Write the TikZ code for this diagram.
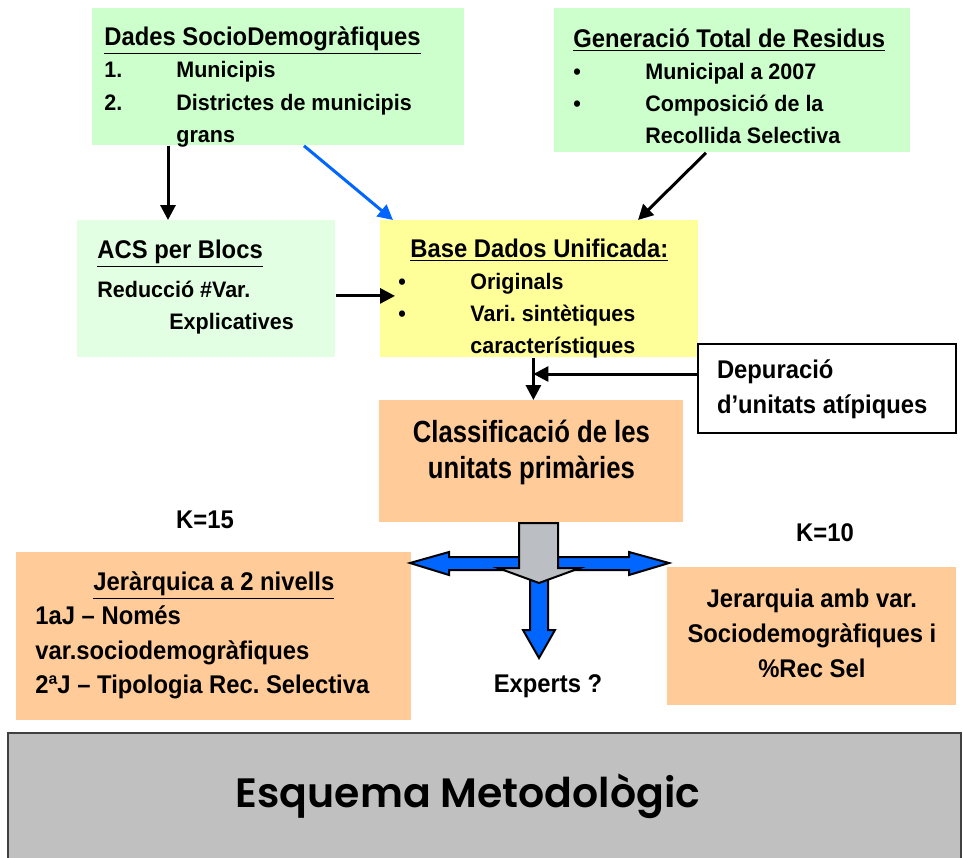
\documentclass[tikz,border=0pt]{standalone}
\usepackage{fontspec}
\setmainfont{Liberation Sans}[FakeStretch=0.93]
\newfontfamily\estretfont{Liberation Sans}[FakeStretch=0.84]
\newfontfamily\llistafont{Liberation Sans}[FakeStretch=0.96]
\newfontfamily\titolfont{Poppins}[BoldFont={* SemiBold}]
\usetikzlibrary{arrows.meta}
\usetikzlibrary{positioning}
\definecolor{verd}{HTML}{CCFFCC}
\definecolor{verdclar}{HTML}{E3FFE3}
\definecolor{groc}{HTML}{FFFF99}
\definecolor{salmo}{HTML}{FFCC99}
\definecolor{blau}{HTML}{0066FF}
\definecolor{grisfons}{HTML}{C0C0C0}
\definecolor{grisfletxa}{HTML}{BBBEC2}
\newcommand{\sagnat}{\makebox[36pt][l]}
\newcommand{\espais}{\spaceskip=\fontdimen2\font\xspaceskip=\fontdimen2\font\relax}
\newcommand{\llista}[1][16]{\llistafont\bfseries\fontsize{11.2}{#1}\selectfont\espais}
\tikzset{
    caixa/.style={
           rectangle,
           anchor=north west,
           inner ysep=0pt,
           inner xsep=9pt,
           align=left,
           font=\bfseries\frenchspacing\fontsize{12.8}{16}\selectfont,
           execute at begin node={\espais},
           },
    fletxa/.style={-{Triangle[length=7.5pt,width=7.5pt]}, line width=1.5pt},
    etiq/.style={font=\bfseries\fontsize{12.8}{16}\selectfont},
    bloc/.style={draw=black, line width=1pt, line join=miter},
}

\begin{document}
\begin{tikzpicture}[x=0.5pt,y=-0.5pt]
    \useasboundingbox (0,0) rectangle (963,857);
    % caixes de dades
    \node[caixa, fill=verd, inner xsep=6pt, text width=174pt, text height=18.5pt, text depth=50pt] (dades) at (92,8)
        {\underline{Dades SocioDemogràfiques}\\ \llista[16.25]
         \sagnat{1.}Municipis\\
         \sagnat{2.}Districtes de municipis\\
         \sagnat{}grans};
    \node[caixa, fill=verd, inner xsep=9.5pt, text width=159pt, text height=19.5pt, text depth=52.5pt] (gen_res) at (554,8)
        {\underline{Generació Total de Residus}\\ \llista
         \sagnat{\textbullet}Municipal a 2007\\
         \sagnat{\textbullet}Composició de la\\
         \sagnat{}Recollida Selectiva};
    \node[caixa, fill=verdclar, inner xsep=10pt, text width=109pt, text height=19pt, text depth=49.5pt] (acs) at (77,220)
        {\underline{ACS per Blocs}\\[4pt] \llista[15.5]
         Reducció \#Var.\\
         \sagnat{}Explicatives};
    \node[caixa, fill=groc, text width=141pt, text height=18.5pt, text depth=50pt] (base) at (380,220)
        {\makebox[\linewidth]{\underline{Base Dados Unificada:}}\\ \llista
         \sagnat{\textbullet}Originals\\
         \sagnat{\textbullet}Vari. sintètiques\\
         \sagnat{}característiques};
    \node[caixa, draw=black, line width=1pt, fill=white, inner xsep=9.5pt, text width=110pt, text height=17pt, text depth=27.5pt,
          font=\bfseries\fontsize{12.8}{17.5}\selectfont] (dep) at (697,343)
        {Depuració\\ d’unitats atípiques};
    \node[caixa, fill=salmo, align=center, inner xsep=6pt, text width=140pt, text height=21pt, text depth=40pt,
          font=\estretfont\bfseries\fontsize{15.3}{18}\selectfont] (clas) at (379,400)
        {Classificació de les\\ unitats primàries};
    % resultats
    \node[caixa, fill=salmo, inner xsep=9.5pt, text width=178.5pt, text height=19pt, text depth=65pt,
          font=\bfseries\frenchspacing\fontsize{12.8}{17.25}\selectfont] (jer_a) at (16,552)
        {\makebox[\linewidth]{\underline{Jeràrquica a 2 nivells}}\\
         1aJ – Només\\
         var.sociodemogràfiques\\
         2ªJ – Tipologia Rec. Selectiva};
    \node[caixa, fill=salmo, align=center, inner xsep=6pt, text width=132.5pt, text height=20pt, text depth=49pt,
          font=\bfseries\fontsize{12.8}{17.5}\selectfont] (jer_b) at (667,567)
        {Jerarquia amb var.\\ Sociodemogràfiques i\\ \%Rec Sel};
    \node[etiq] (k_a) at (205,520) {K=15};
    \node[etiq] (k_b) at (825,533) {K=10};
    \node[etiq] (experts) at (548,686) {Experts ?};
    % fletxes
    \path[fletxa]
    ([xshift=38pt]dades.south west) edge ([xshift=45.5pt]acs.north west)
    ([xshift=76pt]gen_res.south west) edge ([xshift=129pt]base.north west)
    ([yshift=-3.5pt]acs.east) edge ([xshift=7.5pt,yshift=-3.5pt]base.west)
    ([xshift=-3pt]base.south) edge ([xshift=1pt]clas.north);
    \draw[fletxa, blau] ([xshift=106pt]dades.south west) -- ([xshift=6.5pt]base.north west);
    \coordinate (bs) at ([xshift=-3pt]base.south);
    \coordinate (dw) at ([yshift=7.25pt]dep.west);
    \draw[fletxa] (dw) -- (dw -| bs);
    % fletxes grosses
    \draw[bloc, fill=blau] (410,563) -- (449,552) -- (449,557) -- (629,557) -- (629,552) -- (669,563)
        -- (629,575) -- (629,570) -- (449,570) -- (449,575) -- cycle;
    \draw[bloc, fill=blau] (530,575) -- (548,575) -- (548,630) -- (555,630) -- (539,658) -- (523,630)
        -- (530,630) -- cycle;
    \draw[bloc, fill=grisfletxa] (519,523) -- (558,523) -- (558,568) -- (580,568) -- (539,583) -- (498,568)
        -- (519,568) -- cycle;
    % titol
    \draw[fill=grisfons, draw=black!75, line width=1pt] (8,733) rectangle (961,880);
    \node[anchor=base, font=\titolfont\bfseries\fontsize{20.5}{24}\selectfont] (esquema) at (468,807)
        {Esquema Metodològic};
\end{tikzpicture}
\end{document}
